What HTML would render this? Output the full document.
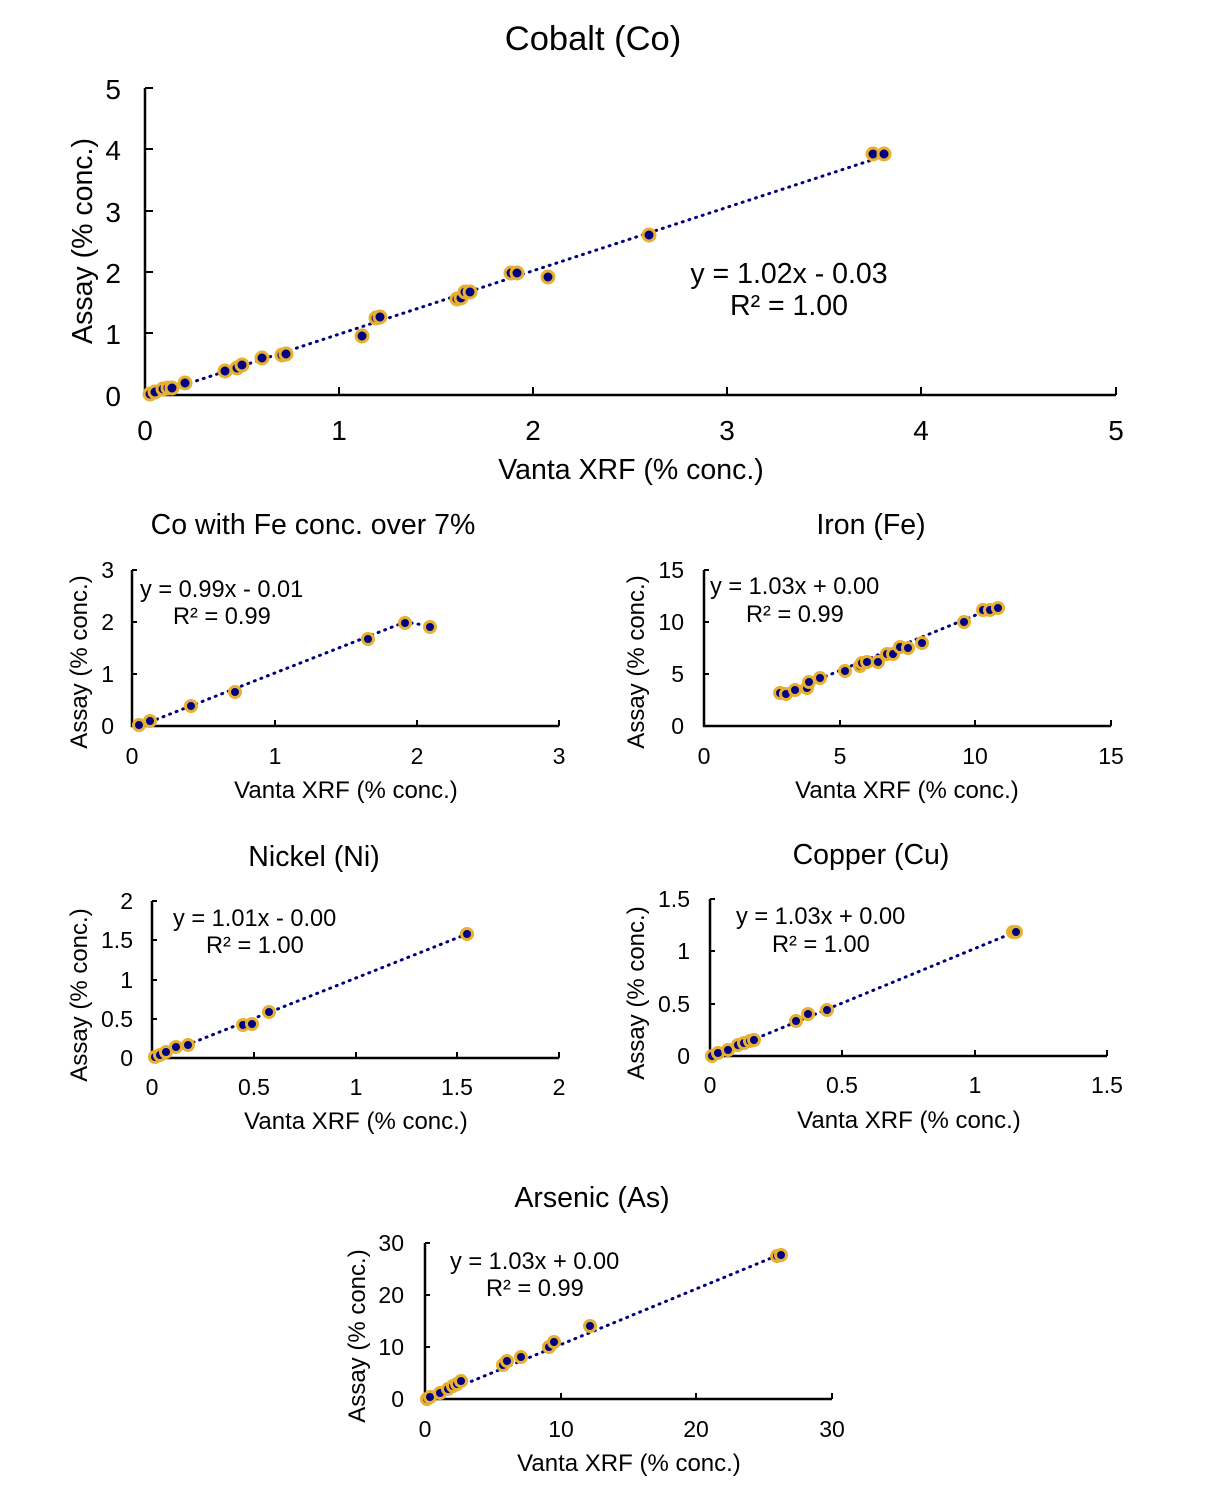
<!DOCTYPE html>
<html><head><meta charset="utf-8"><style>
html,body{margin:0;padding:0;background:#fff;}
svg{display:block;font-family:"Liberation Sans",Arial,sans-serif;}
.ax{stroke:#000;stroke-width:2.5;fill:none;}
.tk{stroke:#000;stroke-width:2;}
.fit{stroke:#000080;stroke-width:3;stroke-dasharray:1 6;stroke-linecap:round;fill:none;}
.m{fill:#000080;stroke:#e8b030;stroke-width:3;}
</style></head><body>
<svg width="1216" height="1504" viewBox="0 0 1216 1504" xmlns="http://www.w3.org/2000/svg">
<!-- Main Cobalt -->
<text x="593" y="50" font-size="34.5" text-anchor="middle">Cobalt (Co)</text>
<path class="ax" d="M145,88 V395 H1116"/>
<g class="tk">
<line x1="145" y1="88" x2="153" y2="88"/><line x1="145" y1="149" x2="153" y2="149"/><line x1="145" y1="211" x2="153" y2="211"/><line x1="145" y1="272" x2="153" y2="272"/><line x1="145" y1="333" x2="153" y2="333"/>
<line x1="339" y1="395" x2="339" y2="387"/><line x1="533" y1="395" x2="533" y2="387"/><line x1="727" y1="395" x2="727" y2="387"/><line x1="921" y1="395" x2="921" y2="387"/><line x1="1116" y1="395" x2="1116" y2="387"/>
</g>
<g font-size="28" text-anchor="end">
<text x="121" y="99">5</text><text x="121" y="160">4</text><text x="121" y="222">3</text><text x="121" y="283">2</text><text x="121" y="344">1</text><text x="121" y="406">0</text>
</g>
<g font-size="28" text-anchor="middle">
<text x="145" y="440">0</text><text x="339" y="440">1</text><text x="533" y="440">2</text><text x="727" y="440">3</text><text x="921" y="440">4</text><text x="1116" y="440">5</text>
</g>
<text x="631" y="479" font-size="28.5" text-anchor="middle">Vanta XRF (% conc.)</text>
<text transform="translate(92,241) rotate(-90)" font-size="28.5" text-anchor="middle">Assay (% conc.)</text>
<text x="789" y="283" font-size="28.5" text-anchor="middle">y = 1.02x - 0.03</text>
<text x="789" y="315" font-size="28.5" text-anchor="middle">R² = 1.00</text>
<line class="fit" x1="150" y1="396" x2="884" y2="156"/>
<g class="m">
<circle cx="150" cy="394" r="6"/><circle cx="155" cy="392" r="6"/><circle cx="163" cy="389" r="6"/><circle cx="168" cy="388" r="6"/><circle cx="172" cy="388" r="6"/><circle cx="185" cy="383" r="6"/><circle cx="225" cy="371" r="6"/><circle cx="237" cy="368" r="6"/><circle cx="242" cy="365" r="6"/><circle cx="262" cy="358" r="6"/><circle cx="282" cy="355" r="6"/><circle cx="286" cy="354" r="6"/><circle cx="362" cy="336" r="6"/><circle cx="376" cy="318" r="6"/><circle cx="380" cy="317" r="6"/><circle cx="457" cy="299" r="6"/><circle cx="461" cy="298" r="6"/><circle cx="465" cy="292" r="6"/><circle cx="470" cy="292" r="6"/><circle cx="511" cy="273" r="6"/><circle cx="517" cy="273" r="6"/><circle cx="548" cy="277" r="6"/><circle cx="649" cy="235" r="6"/><circle cx="873" cy="154" r="6"/><circle cx="884" cy="154" r="6"/>
</g>

<!-- Co with Fe -->
<text x="313" y="534" font-size="28.5" text-anchor="middle">Co with Fe conc. over 7%</text>
<path class="ax" d="M132,570 V726 H559"/>
<g class="tk">
<line x1="132" y1="570" x2="137" y2="570"/><line x1="132" y1="622" x2="137" y2="622"/><line x1="132" y1="674" x2="137" y2="674"/>
<line x1="275" y1="726" x2="275" y2="720"/><line x1="417" y1="726" x2="417" y2="720"/><line x1="559" y1="726" x2="559" y2="720"/>
</g>
<g font-size="23" text-anchor="end"><text x="114" y="578">3</text><text x="114" y="630">2</text><text x="114" y="682">1</text><text x="114" y="734">0</text></g>
<g font-size="23" text-anchor="middle"><text x="132" y="764">0</text><text x="275" y="764">1</text><text x="417" y="764">2</text><text x="559" y="764">3</text></g>
<text x="346" y="798" font-size="24" text-anchor="middle">Vanta XRF (% conc.)</text>
<text transform="translate(87,662) rotate(-90)" font-size="24" text-anchor="middle">Assay (% conc.)</text>
<text x="140" y="597" font-size="23.6">y = 0.99x - 0.01</text>
<text x="173" y="624" font-size="23.6">R² = 0.99</text>
<polyline class="fit" points="137,727 405,622 430,626"/>
<g class="m"><circle cx="139" cy="725" r="5.5"/><circle cx="150" cy="721" r="5.5"/><circle cx="191" cy="706" r="5.5"/><circle cx="235" cy="692" r="5.5"/><circle cx="368" cy="639" r="5.5"/><circle cx="405" cy="623" r="5.5"/><circle cx="430" cy="627" r="5.5"/></g>

<!-- Fe -->
<text x="871" y="534" font-size="28.5" text-anchor="middle">Iron (Fe)</text>
<path class="ax" d="M704,570 V726 H1111"/>
<g class="tk">
<line x1="704" y1="570" x2="709" y2="570"/><line x1="704" y1="622" x2="709" y2="622"/><line x1="704" y1="674" x2="709" y2="674"/>
<line x1="840" y1="726" x2="840" y2="720"/><line x1="975" y1="726" x2="975" y2="720"/><line x1="1111" y1="726" x2="1111" y2="720"/>
</g>
<g font-size="23" text-anchor="end"><text x="684" y="578">15</text><text x="684" y="630">10</text><text x="684" y="682">5</text><text x="684" y="734">0</text></g>
<g font-size="23" text-anchor="middle"><text x="704" y="764">0</text><text x="840" y="764">5</text><text x="975" y="764">10</text><text x="1111" y="764">15</text></g>
<text x="907" y="798" font-size="24" text-anchor="middle">Vanta XRF (% conc.)</text>
<text transform="translate(644,662) rotate(-90)" font-size="24" text-anchor="middle">Assay (% conc.)</text>
<text x="710" y="594" font-size="23.6">y = 1.03x + 0.00</text>
<text x="746" y="622" font-size="23.6">R² = 0.99</text>
<line class="fit" x1="780" y1="695" x2="998" y2="606"/>
<g class="m"><circle cx="780" cy="693" r="5.5"/><circle cx="786" cy="694" r="5.5"/><circle cx="795" cy="690" r="5.5"/><circle cx="807" cy="688" r="5.5"/><circle cx="809" cy="682" r="5.5"/><circle cx="820" cy="678" r="5.5"/><circle cx="845" cy="671" r="5.5"/><circle cx="860" cy="666" r="5.5"/><circle cx="862" cy="663" r="5.5"/><circle cx="867" cy="662" r="5.5"/><circle cx="878" cy="662" r="5.5"/><circle cx="887" cy="654" r="5.5"/><circle cx="893" cy="654" r="5.5"/><circle cx="900" cy="647" r="5.5"/><circle cx="908" cy="648" r="5.5"/><circle cx="922" cy="643" r="5.5"/><circle cx="964" cy="622" r="5.5"/><circle cx="983" cy="610" r="5.5"/><circle cx="990" cy="610" r="5.5"/><circle cx="998" cy="608" r="5.5"/></g>

<!-- Ni -->
<text x="314" y="866" font-size="28.5" text-anchor="middle">Nickel (Ni)</text>
<path class="ax" d="M152,901 V1058 H559"/>
<g class="tk">
<line x1="152" y1="901" x2="157" y2="901"/><line x1="152" y1="940" x2="157" y2="940"/><line x1="152" y1="980" x2="157" y2="980"/><line x1="152" y1="1019" x2="157" y2="1019"/>
<line x1="254" y1="1058" x2="254" y2="1052"/><line x1="356" y1="1058" x2="356" y2="1052"/><line x1="457" y1="1058" x2="457" y2="1052"/><line x1="559" y1="1058" x2="559" y2="1052"/>
</g>
<g font-size="23" text-anchor="end"><text x="133" y="909">2</text><text x="133" y="948">1.5</text><text x="133" y="988">1</text><text x="133" y="1027">0.5</text><text x="133" y="1066">0</text></g>
<g font-size="23" text-anchor="middle"><text x="152" y="1095">0</text><text x="254" y="1095">0.5</text><text x="356" y="1095">1</text><text x="457" y="1095">1.5</text><text x="559" y="1095">2</text></g>
<text x="356" y="1129" font-size="24" text-anchor="middle">Vanta XRF (% conc.)</text>
<text transform="translate(87,995) rotate(-90)" font-size="24" text-anchor="middle">Assay (% conc.)</text>
<text x="173" y="926" font-size="23.6">y = 1.01x - 0.00</text>
<text x="206" y="953" font-size="23.6">R² = 1.00</text>
<line class="fit" x1="154" y1="1058" x2="467" y2="934"/>
<g class="m"><circle cx="155" cy="1057" r="5.5"/><circle cx="160" cy="1055" r="5.5"/><circle cx="166" cy="1052" r="5.5"/><circle cx="176" cy="1047" r="5.5"/><circle cx="188" cy="1045" r="5.5"/><circle cx="243" cy="1025" r="5.5"/><circle cx="252" cy="1024" r="5.5"/><circle cx="269" cy="1012" r="5.5"/><circle cx="467" cy="934" r="5.5"/></g>

<!-- Cu -->
<text x="871" y="864" font-size="28.5" text-anchor="middle">Copper (Cu)</text>
<path class="ax" d="M710,899 V1056 H1107"/>
<g class="tk">
<line x1="710" y1="899" x2="715" y2="899"/><line x1="710" y1="951" x2="715" y2="951"/><line x1="710" y1="1004" x2="715" y2="1004"/>
<line x1="842" y1="1056" x2="842" y2="1050"/><line x1="975" y1="1056" x2="975" y2="1050"/><line x1="1107" y1="1056" x2="1107" y2="1050"/>
</g>
<g font-size="23" text-anchor="end"><text x="690" y="907">1.5</text><text x="690" y="959">1</text><text x="690" y="1012">0.5</text><text x="690" y="1064">0</text></g>
<g font-size="23" text-anchor="middle"><text x="710" y="1093">0</text><text x="842" y="1093">0.5</text><text x="975" y="1093">1</text><text x="1107" y="1093">1.5</text></g>
<text x="909" y="1128" font-size="24" text-anchor="middle">Vanta XRF (% conc.)</text>
<text transform="translate(644,993) rotate(-90)" font-size="24" text-anchor="middle">Assay (% conc.)</text>
<text x="736" y="924" font-size="23.6">y = 1.03x + 0.00</text>
<text x="772" y="952" font-size="23.6">R² = 1.00</text>
<line class="fit" x1="711" y1="1057" x2="1015" y2="932"/>
<g class="m"><circle cx="712" cy="1056" r="5.5"/><circle cx="718" cy="1053" r="5.5"/><circle cx="728" cy="1050" r="5.5"/><circle cx="738" cy="1045" r="5.5"/><circle cx="744" cy="1043" r="5.5"/><circle cx="750" cy="1041" r="5.5"/><circle cx="754" cy="1040" r="5.5"/><circle cx="796" cy="1021" r="5.5"/><circle cx="808" cy="1014" r="5.5"/><circle cx="827" cy="1010" r="5.5"/><circle cx="1013" cy="932" r="5.5"/><circle cx="1016" cy="932" r="5.5"/></g>

<!-- As -->
<text x="592" y="1207" font-size="28.5" text-anchor="middle">Arsenic (As)</text>
<path class="ax" d="M425,1243 V1399 H832"/>
<g class="tk">
<line x1="425" y1="1243" x2="430" y2="1243"/><line x1="425" y1="1295" x2="430" y2="1295"/><line x1="425" y1="1347" x2="430" y2="1347"/>
<line x1="561" y1="1399" x2="561" y2="1393"/><line x1="696" y1="1399" x2="696" y2="1393"/><line x1="832" y1="1399" x2="832" y2="1393"/>
</g>
<g font-size="23" text-anchor="end"><text x="404" y="1251">30</text><text x="404" y="1303">20</text><text x="404" y="1355">10</text><text x="404" y="1407">0</text></g>
<g font-size="23" text-anchor="middle"><text x="425" y="1437">0</text><text x="561" y="1437">10</text><text x="696" y="1437">20</text><text x="832" y="1437">30</text></g>
<text x="629" y="1471" font-size="24" text-anchor="middle">Vanta XRF (% conc.)</text>
<text transform="translate(365,1336) rotate(-90)" font-size="24" text-anchor="middle">Assay (% conc.)</text>
<text x="450" y="1269" font-size="23.6">y = 1.03x + 0.00</text>
<text x="486" y="1296" font-size="23.6">R² = 0.99</text>
<line class="fit" x1="426" y1="1400" x2="781" y2="1254"/>
<g class="m"><circle cx="427" cy="1399" r="5.5"/><circle cx="430" cy="1397" r="5.5"/><circle cx="440" cy="1393" r="5.5"/><circle cx="448" cy="1389" r="5.5"/><circle cx="453" cy="1386" r="5.5"/><circle cx="457" cy="1384" r="5.5"/><circle cx="461" cy="1381" r="5.5"/><circle cx="503" cy="1365" r="5.5"/><circle cx="507" cy="1361" r="5.5"/><circle cx="521" cy="1357" r="5.5"/><circle cx="549" cy="1347" r="5.5"/><circle cx="554" cy="1342" r="5.5"/><circle cx="590" cy="1326" r="5.5"/><circle cx="777" cy="1256" r="5.5"/><circle cx="781" cy="1255" r="5.5"/></g>
</svg>
</body></html>
